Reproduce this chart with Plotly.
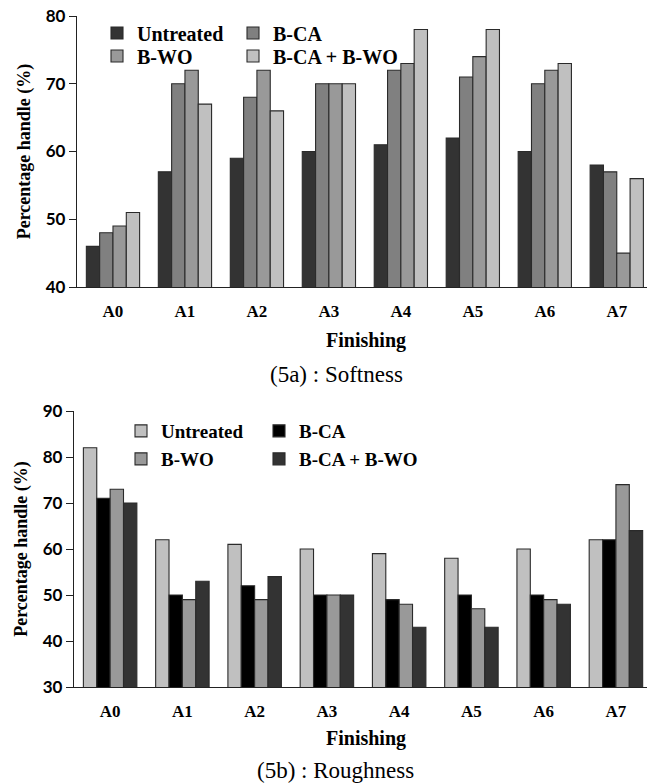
import plotly.graph_objects as go

categories = ["A0", "A1", "A2", "A3", "A4", "A5", "A6", "A7"]
series_names = ["Untreated", "B-CA", "B-WO", "B-CA + B-WO"]

soft_untreated = [46, 57, 59, 60, 61, 62, 60, 58]
soft_bca = [48, 70, 68, 70, 72, 71, 70, 57]
soft_bwo = [49, 72, 72, 70, 73, 74, 72, 45]
soft_combo = [51, 67, 66, 70, 78, 78, 73, 56]

rough_untreated = [82, 62, 61, 60, 59, 58, 60, 62]
rough_bca = [71, 50, 52, 50, 49, 50, 50, 62]
rough_bwo = [73, 49, 49, 50, 48, 47, 49, 74]
rough_combo = [70, 53, 54, 50, 43, 43, 48, 64]

soft_ticks = [40, 50, 60, 70, 80]
rough_ticks = [30, 40, 50, 60, 70, 80, 90]

soft_colors = ["#333333", "#808080", "#999999", "#c0c0c0"]
rough_colors = ["#c0c0c0", "#000000", "#999999", "#333333"]

W, H = 647, 783
SERIF = "Liberation Serif"
SANS = "Lato"

fig = go.Figure()

soft_vals = [soft_untreated, soft_bca, soft_bwo, soft_combo]
rough_vals = [rough_untreated, rough_bca, rough_bwo, rough_combo]

for i, (name, vals, col) in enumerate(zip(series_names, soft_vals, soft_colors)):
    fig.add_trace(go.Bar(
        x=categories, y=vals, name=name, marker=dict(color=col, line=dict(color="#2a2a2a", width=1.1)),
        xaxis="x", yaxis="y", legend="legend" if i == 0 else f"legend{i+1}", offsetgroup=str(i),
        showlegend=True))
for i, (name, vals, col) in enumerate(zip(series_names, rough_vals, rough_colors)):
    fig.add_trace(go.Bar(
        x=categories, y=vals, name=name, marker=dict(color=col, line=dict(color="#2a2a2a", width=1.1)),
        xaxis="x2", yaxis="y2", legend=f"legend{i+5}", offsetgroup=str(i), showlegend=True))

def px_x(p):
    return p / W

def px_y(p):
    return 1 - p / H

ax_common = dict(showgrid=False, zeroline=False, showline=True, linecolor="#222", linewidth=1.3,
                 automargin=False, fixedrange=True)

fig.update_layout(
    width=W, height=H, margin=dict(l=0, r=0, t=0, b=0),
    template="none", paper_bgcolor="white", plot_bgcolor="white",
    showlegend=True,
    barmode="group", bargap=0.26, bargroupgap=0,
    xaxis=dict(**ax_common, domain=[px_x(77), 1], range=[-0.5, 7.42], anchor="y",
               ticks="", tickfont=dict(family=SERIF, size=17, color="black", weight="bold"),
               ticklabelstandoff=8),
    yaxis=dict(**ax_common, domain=[px_y(287), px_y(16)], range=[40, 80], tickvals=soft_ticks,
               ticks="outside", ticklen=7, tickcolor="#222", anchor="x",
               tickfont=dict(family=SANS, size=17, color="black", weight="bold"),
               title=dict(text="Percentage handle (%)", standoff=10,
                          font=dict(family=SERIF, size=18, color="black", weight="bold"))),
    xaxis2=dict(**ax_common, domain=[px_x(74), 1], range=[-0.5, 7.43], anchor="y2",
                ticks="", tickfont=dict(family=SERIF, size=17, color="black", weight="bold"),
                ticklabelstandoff=8),
    yaxis2=dict(**ax_common, domain=[px_y(687), px_y(411)], range=[30, 90], tickvals=rough_ticks,
                ticks="outside", ticklen=7, tickcolor="#222", anchor="x2",
                tickfont=dict(family=SANS, size=17, color="black", weight="bold"),
                title=dict(text="Percentage handle (%)", standoff=10,
                           font=dict(family=SERIF, size=18, color="black", weight="bold"))),
)

# legends: one per entry for exact placement (reference symbol-left, centre-y, font size)
leg_pos = [
    (116, 33, 20), (252, 33, 20), (116, 56, 20), (252, 56, 20),
    (140, 431, 19), (278, 431, 19), (140, 459, 19), (278, 459, 19),
]
for i, (lx, ly, fs) in enumerate(leg_pos):
    key = "legend" if i == 0 else f"legend{i+1}"
    fig.update_layout(**{key: dict(
        x=px_x(lx - 19), y=px_y(ly), xanchor="left", yanchor="middle",
        bgcolor="rgba(0,0,0,0)", borderwidth=0,
        font=dict(family=SERIF, size=fs, color="black", weight="bold"),
        itemwidth=30, itemclick=False, itemdoubleclick=False)})

ann_font_b = dict(family=SERIF, size=20, color="black", weight="bold")
ann_font_r = dict(family=SERIF, size=23, color="black")
fig.add_annotation(text="Finishing", x=px_x(366), y=px_y(340), xref="paper", yref="paper",
                   showarrow=False, font=ann_font_b, xanchor="center", yanchor="middle")
fig.add_annotation(text="(5a) : Softness", x=px_x(336), y=px_y(374), xref="paper", yref="paper",
                   showarrow=False, font=ann_font_r, xanchor="center", yanchor="middle")
fig.add_annotation(text="Finishing", x=px_x(366), y=px_y(738), xref="paper", yref="paper",
                   showarrow=False, font=ann_font_b, xanchor="center", yanchor="middle")
fig.add_annotation(text="(5b) : Roughness", x=px_x(335), y=px_y(770), xref="paper", yref="paper",
                   showarrow=False, font=ann_font_r, xanchor="center", yanchor="middle")

fig.write_html("out.html")
